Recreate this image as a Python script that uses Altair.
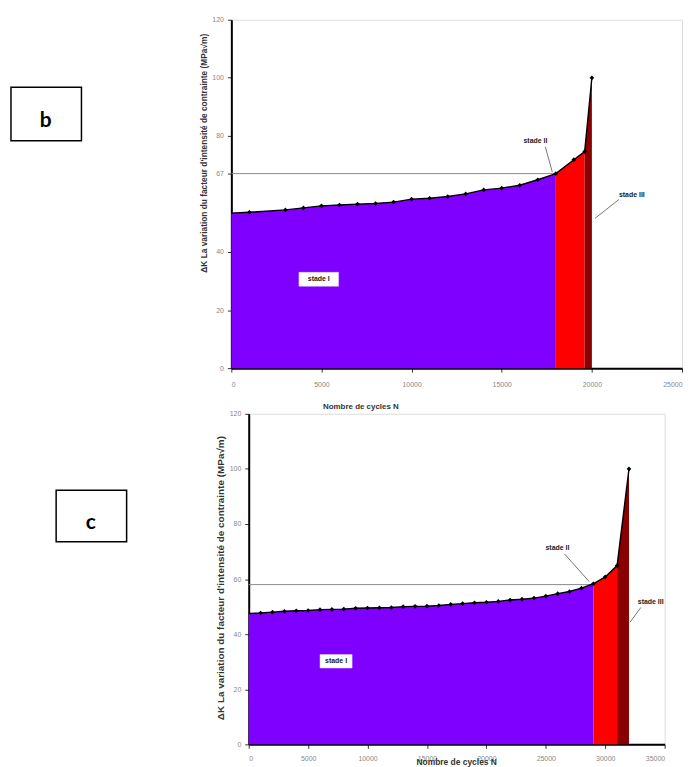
import altair as alt
import pandas as pd

# ---------------- Chart b data ----------------
b_cycles = [0, 1000, 3000, 4000, 5000, 6000, 7000, 8000, 9000, 10000, 11000, 12000,
            13000, 14000, 15000, 16000, 17000, 18000, 19000, 19600, 20000]
b_dk = [53.4, 53.7, 54.5, 55.2, 55.9, 56.2, 56.5, 56.7, 57.2, 58.2, 58.5, 59.1,
        60.0, 61.4, 62.0, 63.0, 64.9, 67.0, 71.8, 74.6, 100.0]
b_stage2_start = 18000
b_stage3_start = 19600
b_ref_level = 67
b_x_ticks = [0, 5000, 10000, 15000, 20000, 25000]
b_y_ticks = [0, 20, 40, 67, 80, 100, 120]

# ---------------- Chart c data ----------------
c_cycles = [0, 1000, 2000, 3000, 4000, 5000, 6000, 7000, 8000, 9000, 10000, 11000,
            12000, 13000, 14000, 15000, 16000, 17000, 18000, 19000, 20000, 21000,
            22000, 23000, 24000, 25000, 26000, 27000, 28000, 29000, 30000, 31000, 32000]
c_dk = [47.5, 47.7, 48.0, 48.3, 48.5, 48.6, 48.9, 49.0, 49.1, 49.4, 49.5, 49.6,
        49.7, 50.0, 50.1, 50.2, 50.4, 50.8, 51.1, 51.4, 51.6, 51.9,
        52.4, 52.7, 53.1, 53.8, 54.7, 55.5, 56.7, 58.3, 60.8, 64.9, 100.0]
c_stage2_start = 29000
c_stage3_start = 31000
c_ref_level = 58
c_x_ticks = [0, 5000, 10000, 15000, 20000, 25000, 30000, 35000]
c_y_ticks = [0, 20, 40, 60, 80, 100, 120]

stage_names = ["I", "II", "III"]
stage_colors = ["#7F00FF", "#FF0000", "#8A0000"]

y_title = "ΔK La variation du facteur d'intensité de contrainte (MPa√m)"
x_title = "Nombre de cycles N"

# annotation anchors (data units): text positions and leader lines
b_ann_text = [("stade I", 4850, 30.6), ("stade II", 16870, 78.3), ("stade III", 22216, 59.5)]
b_leaders = [(17420, 76.2, 17806, 67.5), (21500, 58.1, 20176, 51.6)]
b_box = (3750, 5950, 28.2, 33.0)

c_ann_text = [("stade I", 7351, 30.3), ("stade II", 25980, 71.4), ("stade III", 33830, 51.5)]
c_leaders = [(26560, 69.2, 28650, 59.1), (33000, 49.7, 32080, 44.3)]
c_box = (6000, 8700, 27.7, 32.6)


def stage_frame(cycles, dk, s2, s3):
    rows = []
    for x, y in zip(cycles, dk):
        if x <= s2:
            rows.append((x, y, "I"))
        if s2 <= x <= s3:
            rows.append((x, y, "II"))
        if x >= s3:
            rows.append((x, y, "III"))
    return pd.DataFrame(rows, columns=["N", "dK", "stade"])


def panel(cycles, dk, s2, s3, ref, xdom, xticks, yticks, width, height,
          ann_text, leaders, box, letter, letter_box, letter_pos,
          xtitle_pos, ytitle_pos, xtitle_size, ytitle_size, label_pad):
    area_df = stage_frame(cycles, dk, s2, s3)
    line_df = pd.DataFrame({"N": cycles, "dK": dk})
    pts_df = line_df[line_df["N"] > 0]

    xs = alt.Scale(domain=xdom, nice=False, zero=True)
    ys = alt.Scale(domain=[0, 120], nice=False)

    xaxis = alt.Axis(values=xticks, format="d", title=x_title, grid=False,
                     labelFontSize=7, labelColor="#888", labelFont="Liberation Sans",
                     labelPadding=label_pad,
                     domainColor="black", domainWidth=2, tickColor="#333", tickSize=4,
                     titleFont="Liberation Sans", titleFontSize=xtitle_size,
                     titleFontWeight="bold", titleColor="#333",
                     titleX=xtitle_pos[0], titleY=xtitle_pos[1],
                     titleBaseline="middle", titleAlign="center")
    yaxis = alt.Axis(values=yticks, title=y_title, grid=False,
                     labelFontSize=7, labelColor="#888", labelFont="Liberation Sans",
                     labelPadding=4,
                     domainColor="black", domainWidth=2, tickColor="#333", tickSize=4,
                     titleFont="Liberation Sans", titleFontSize=ytitle_size,
                     titleFontWeight="bold", titleColor="#333",
                     titleX=ytitle_pos[0], titleY=ytitle_pos[1],
                     titleBaseline="middle", titleAlign="center")

    base_ref = alt.Chart(pd.DataFrame({"x": [0], "x2": [s2], "y": [ref]})).mark_rule(
        color="#8a8a8a", strokeWidth=1
    ).encode(
        x=alt.X("x:Q", scale=xs, axis=xaxis),
        x2="x2:Q",
        y=alt.Y("y:Q", scale=ys, axis=yaxis),
    )

    areas = alt.Chart(area_df).mark_area(opacity=1).encode(
        x=alt.X("N:Q", scale=xs),
        y=alt.Y("dK:Q", scale=ys, stack=None),
        color=alt.Color("stade:N", scale=alt.Scale(domain=stage_names, range=stage_colors),
                        legend=None),
    )

    line = alt.Chart(line_df).mark_line(color="black", strokeWidth=1.4).encode(
        x=alt.X("N:Q", scale=xs), y=alt.Y("dK:Q", scale=ys)
    )
    pts = alt.Chart(pts_df).mark_point(filled=True, color="black", size=22, opacity=1,
                                       shape="diamond").encode(
        x=alt.X("N:Q", scale=xs), y=alt.Y("dK:Q", scale=ys)
    )

    lead_df = pd.DataFrame(leaders, columns=["x", "y", "x2", "y2"])
    leads = alt.Chart(lead_df).mark_rule(color="#555", strokeWidth=0.8).encode(
        x=alt.X("x:Q", scale=xs), y=alt.Y("y:Q", scale=ys), x2="x2:Q", y2="y2:Q"
    )

    box_df = pd.DataFrame([box], columns=["x", "x2", "y", "y2"])
    boxm = alt.Chart(box_df).mark_rect(fill="white", stroke="#ddd", strokeWidth=0.5).encode(
        x=alt.X("x:Q", scale=xs), x2="x2:Q", y=alt.Y("y:Q", scale=ys), y2="y2:Q"
    )

    txt_df = pd.DataFrame(ann_text, columns=["t", "x", "y"])
    txt = alt.Chart(txt_df).mark_text(font="Liberation Sans", fontSize=7, fontWeight="bold",
                                      color="#222").encode(
        x=alt.X("x:Q", scale=xs), y=alt.Y("y:Q", scale=ys), text="t:N"
    )

    lb = alt.Chart(pd.DataFrame({"k": [0]})).mark_rect(
        fill="white", stroke="black", strokeWidth=1.5
    ).encode(
        x=alt.value(letter_box[0]), x2=alt.value(letter_box[1]),
        y=alt.value(letter_box[2]), y2=alt.value(letter_box[3]),
    )
    lt = alt.Chart(pd.DataFrame({"t": [letter]})).mark_text(
        font="Lato", fontSize=21, fontWeight="bold", color="black", baseline="middle"
    ).encode(x=alt.value(letter_pos[0]), y=alt.value(letter_pos[1]), text="t:N")

    return alt.layer(base_ref, areas, line, pts, leads, boxm, txt, lb, lt).properties(
        width=width, height=height
    )


top = panel(b_cycles, b_dk, b_stage2_start, b_stage3_start, b_ref_level,
            [0, 25000], b_x_ticks, b_y_ticks, 454, 351,
            b_ann_text, b_leaders, b_box, "b",
            (-222, -151, 68, 122), (-187, 102), (130, 39), (-28, 134), 8, 8.4, 8)

bottom = panel(c_cycles, c_dk, c_stage2_start, c_stage3_start, c_ref_level,
               [0, 35000], c_x_ticks, c_y_ticks, 419, 333,
               c_ann_text, c_leaders, c_box, "c",
               (-194, -123, 77, 129), (-159, 110), (209, 17), (-28, 165), 8.5, 10, 6)

chart = alt.vconcat(top, bottom, spacing=46, bounds="flush", center=True).properties(
    padding={"left": 1, "top": 4, "right": 0, "bottom": 0}
).configure_view(stroke=None).configure(background="white")

chart.save("out.html", embed_options={"renderer": "svg", "actions": False})
